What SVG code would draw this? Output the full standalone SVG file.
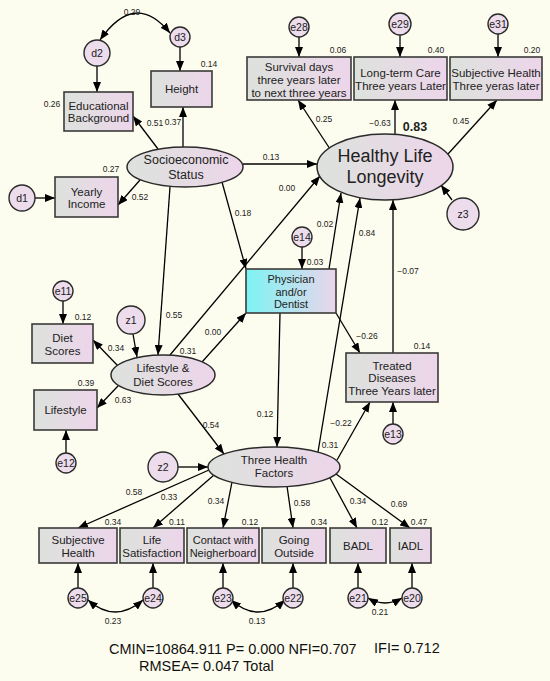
<svg xmlns="http://www.w3.org/2000/svg" width="550" height="681" viewBox="0 0 550 681">
<defs>
<linearGradient id="g" x1="0" y1="0" x2="1" y2="0"><stop offset="0" stop-color="#dde2dd"/><stop offset="1" stop-color="#edd5ea"/></linearGradient>
<linearGradient id="gc" x1="0" y1="0" x2="1" y2="0"><stop offset="0" stop-color="#7cf3f3"/><stop offset="1" stop-color="#ebd5eb"/></linearGradient>
<marker id="a" markerUnits="userSpaceOnUse" markerWidth="11" markerHeight="8" refX="10" refY="4" orient="auto-start-reverse"><path d="M0,0 L10,4 L0,8 z" fill="#000"/></marker>
<style>
.bx{fill:url(#g);stroke:#3a3a3a;stroke-width:1.6}
.el{fill:url(#g);stroke:#2a2a2a;stroke-width:1.5}
.ci{fill:#ecdcec;stroke:#2a2a2a;stroke-width:1.4}
.t{font-family:"Liberation Sans",Arial,sans-serif;font-size:11.5px;fill:#222;text-anchor:middle}
.c{font-family:"Liberation Sans",Arial,sans-serif;font-size:10.5px;fill:#222;text-anchor:middle}
.l{font-family:"Liberation Sans",Arial,sans-serif;font-size:8.5px;fill:#222;text-anchor:middle}
.cn line,.cn path{stroke:#000;stroke-width:1.3;fill:none;marker-end:url(#a)}
.cn path.cv{marker-start:url(#a)}
</style>
</defs>
<rect width="550" height="681" fill="#fdfdef"/>

<g class="cn" id="connectors">
<path class="cv" d="M100,40 Q135,-10 170,33"/>
<line x1="97" y1="66" x2="97" y2="92"/>
<line x1="180" y1="47" x2="180" y2="71"/>
<line x1="35" y1="198" x2="55" y2="198"/>
<line x1="158" y1="149" x2="133" y2="116"/>
<line x1="183" y1="147" x2="183" y2="107"/>
<line x1="140" y1="180" x2="118" y2="205"/>
<line x1="243" y1="164" x2="317" y2="164"/>
<line x1="170" y1="187" x2="158" y2="355"/>
<line x1="222" y1="182" x2="246" y2="269"/>
<line x1="170" y1="355" x2="320" y2="176"/>
<line x1="202" y1="362" x2="246" y2="313"/>
<line x1="118" y1="366" x2="93" y2="340"/>
<line x1="118" y1="386" x2="97" y2="408"/>
<line x1="178" y1="394" x2="224" y2="454"/>
<line x1="329" y1="269" x2="341" y2="193"/>
<line x1="318" y1="452" x2="360" y2="198"/>
<line x1="393" y1="353" x2="393" y2="200"/>
<line x1="336" y1="313" x2="360" y2="353"/>
<line x1="337" y1="460" x2="370" y2="402"/>
<line x1="280" y1="313" x2="277" y2="447"/>
<line x1="452" y1="200" x2="441" y2="185"/>
<line x1="178" y1="467" x2="208" y2="467"/>
<line x1="133" y1="334" x2="137" y2="357"/>
<line x1="63" y1="301" x2="63" y2="324"/>
<line x1="66" y1="453" x2="66" y2="430"/>
<line x1="393" y1="424" x2="393" y2="402"/>
<line x1="302" y1="247" x2="302" y2="269"/>
<line x1="299" y1="37" x2="299" y2="57"/>
<line x1="400" y1="35" x2="400" y2="57"/>
<line x1="498" y1="34" x2="498" y2="57"/>
<line x1="330" y1="149" x2="298" y2="100"/>
<line x1="395" y1="134" x2="395" y2="100"/>
<line x1="448" y1="154" x2="497" y2="100"/>
<line x1="209" y1="470" x2="78" y2="528"/>
<line x1="214" y1="475" x2="153" y2="528"/>
<line x1="232" y1="482" x2="223" y2="528"/>
<line x1="287" y1="486" x2="293" y2="528"/>
<line x1="330" y1="478" x2="357" y2="528"/>
<line x1="336" y1="474" x2="410" y2="528"/>
<line x1="78" y1="588" x2="78" y2="563"/>
<line x1="153" y1="588" x2="153" y2="563"/>
<line x1="223" y1="588" x2="223" y2="563"/>
<line x1="293" y1="588" x2="293" y2="563"/>
<line x1="358" y1="588" x2="358" y2="563"/>
<line x1="412" y1="588" x2="412" y2="563"/>
<path class="cv" d="M88,600 Q115,624 143,600"/>
<path class="cv" d="M231,600 Q258,624 285,600"/>
<path class="cv" d="M368,598 Q385,608 402,598"/>
</g>

<g id="d2"><circle class="ci" cx="97" cy="53" r="13"/><text class="c" x="97" y="57">d2</text></g>
<g id="d3"><circle class="ci" cx="180" cy="37" r="10"/><text class="c" x="180" y="41">d3</text></g>
<g id="d1"><circle class="ci" cx="22" cy="198" r="13"/><text class="c" x="22" y="202">d1</text></g>
<g id="educational"><rect class="bx" x="64" y="92" width="69" height="39"/><text class="t" x="98.5" y="110">Educational</text><text class="t" x="98.5" y="122">Background</text></g>
<g id="height"><rect class="bx" x="151" y="71" width="61" height="36"/><text class="t" x="181.5" y="93">Height</text></g>
<g id="income"><rect class="bx" x="55" y="177" width="63" height="40"/><text class="t" x="86.5" y="196">Yearly</text><text class="t" x="86.5" y="208">Income</text></g>
<g id="ses"><ellipse class="el" cx="185" cy="167" rx="58" ry="20"/><text class="t" style="font-size:12.5px" x="186" y="164">Socioeconomic</text><text class="t" style="font-size:12.5px" x="186" y="178.5">Status</text></g>

<g id="e28"><circle class="ci" cx="299" cy="27" r="10"/><text class="c" x="299" y="31">e28</text></g>
<g id="e29"><circle class="ci" cx="400" cy="24" r="11"/><text class="c" x="400" y="28">e29</text></g>
<g id="e31"><circle class="ci" cx="498" cy="24" r="10"/><text class="c" x="498" y="28">e31</text></g>
<g id="survival"><rect class="bx" x="247" y="57" width="104" height="43"/><text class="t" x="299" y="71">Survival days</text><text class="t" x="299" y="84">three years later</text><text class="t" x="299" y="97">to next three years</text></g>
<g id="ltc"><rect class="bx" x="354" y="57" width="93" height="43"/><text class="t" x="400.5" y="77">Long-term Care</text><text class="t" x="400.5" y="90">Three years Later</text></g>
<g id="subj3"><rect class="bx" x="450" y="57" width="92" height="43"/><text class="t" x="496" y="77">Subjective Health</text><text class="t" x="496" y="90">Three yeras later</text></g>
<g id="hll"><ellipse class="el" cx="385" cy="167" rx="68" ry="33"/><text class="t" style="font-size:18px" x="385" y="162">Healthy Life</text><text class="t" style="font-size:18px" x="385" y="183">Longevity</text></g>
<g id="z3"><circle class="ci" cx="463" cy="214" r="16"/><text class="c" x="463" y="218">z3</text></g>

<g id="e14"><circle class="ci" cx="302" cy="237" r="10"/><text class="c" x="302" y="241">e14</text></g>
<g id="physician"><rect x="246" y="269" width="90" height="44" fill="url(#gc)" stroke="#3a3a3a" stroke-width="1.6"/><text class="t" style="font-size:11px" x="291" y="283">Physician</text><text class="t" style="font-size:11px" x="291" y="296">and/or</text><text class="t" style="font-size:11px" x="291" y="308">Dentist</text></g>
<g id="treated"><rect class="bx" x="346" y="353" width="92" height="49"/><text class="t" x="392" y="370">Treated</text><text class="t" x="392" y="382">Diseases</text><text class="t" x="392" y="395">Three Years later</text></g>
<g id="e13"><circle class="ci" cx="393" cy="434" r="10"/><text class="c" x="393" y="438">e13</text></g>

<g id="e11"><circle class="ci" cx="63" cy="291" r="10"/><text class="c" x="63" y="295">e11</text></g>
<g id="diet"><rect class="bx" x="32" y="324" width="61" height="39"/><text class="t" x="62.5" y="342">Diet</text><text class="t" x="62.5" y="355">Scores</text></g>
<g id="z1"><circle class="ci" cx="131" cy="320" r="14"/><text class="c" x="131" y="324">z1</text></g>
<g id="lifestylebox"><rect class="bx" x="34" y="390" width="63" height="40"/><text class="t" x="65.5" y="414">Lifestyle</text></g>
<g id="e12"><circle class="ci" cx="66" cy="463" r="10"/><text class="c" x="66" y="467">e12</text></g>
<g id="lifestyle"><ellipse class="el" cx="163" cy="375" rx="52" ry="20"/><text class="t" x="163" y="372">Lifestyle &amp;</text><text class="t" x="163" y="385.5">Diet Scores</text></g>

<g id="z2"><circle class="ci" cx="163" cy="467" r="15"/><text class="c" x="163" y="471">z2</text></g>
<g id="thf"><ellipse class="el" cx="274" cy="467" rx="66" ry="20"/><text class="t" x="274" y="464">Three Health</text><text class="t" x="274" y="477">Factors</text></g>

<g id="subjh"><rect class="bx" x="39" y="528" width="78" height="35"/><text class="t" x="78" y="544">Subjective</text><text class="t" x="78" y="557">Health</text></g>
<g id="lifesat"><rect class="bx" x="120" y="528" width="64" height="35"/><text class="t" x="152" y="544">Life</text><text class="t" x="152" y="557">Satisfaction</text></g>
<g id="contact"><rect class="bx" x="187" y="528" width="72" height="35"/><text class="t" style="font-size:11px" x="223" y="544">Contact with</text><text class="t" style="font-size:11px" x="223" y="557">Neigherboard</text></g>
<g id="going"><rect class="bx" x="262" y="528" width="64" height="35"/><text class="t" x="294" y="544">Going</text><text class="t" x="294" y="557">Outside</text></g>
<g id="badl"><rect class="bx" x="330" y="528" width="56" height="35"/><text class="t" x="358" y="550">BADL</text></g>
<g id="iadl"><rect class="bx" x="390" y="528" width="41" height="35"/><text class="t" x="410.5" y="550">IADL</text></g>
<g id="e25"><circle class="ci" cx="78" cy="598" r="10"/><text class="c" x="78" y="602">e25</text></g>
<g id="e24"><circle class="ci" cx="153" cy="598" r="10"/><text class="c" x="153" y="602">e24</text></g>
<g id="e23"><circle class="ci" cx="223" cy="598" r="10"/><text class="c" x="223" y="602">e23</text></g>
<g id="e22"><circle class="ci" cx="293" cy="598" r="10"/><text class="c" x="293" y="602">e22</text></g>
<g id="e21"><circle class="ci" cx="358" cy="598" r="10"/><text class="c" x="358" y="602">e21</text></g>
<g id="e20"><circle class="ci" cx="412" cy="598" r="10"/><text class="c" x="412" y="602">e20</text></g>

<g id="labels">
<text class="l" x="132" y="15">0.29</text>
<text class="l" x="209" y="67">0.14</text>
<text class="l" x="52" y="107">0.26</text>
<text class="l" x="155" y="126">0.51</text>
<text class="l" x="173" y="125">0.37</text>
<text class="l" x="111" y="172">0.27</text>
<text class="l" x="140" y="200">0.52</text>
<text class="l" x="271" y="160">0.13</text>
<text class="l" x="287" y="191">0.00</text>
<text class="l" x="338" y="53">0.06</text>
<text class="l" x="436" y="53">0.40</text>
<text class="l" x="532" y="53">0.20</text>
<text class="l" x="324" y="122">0.25</text>
<text class="l" x="380" y="126">−0.63</text>
<text class="l" style="font-size:12.5px;font-weight:bold" x="415" y="131">0.83</text>
<text class="l" x="461" y="124">0.45</text>
<text class="l" x="243" y="216">0.18</text>
<text class="l" x="174" y="318">0.55</text>
<text class="l" x="83" y="320">0.12</text>
<text class="l" x="213" y="335">0.00</text>
<text class="l" x="188" y="354">0.31</text>
<text class="l" x="116" y="351">0.34</text>
<text class="l" x="86" y="386">0.39</text>
<text class="l" x="123" y="403">0.63</text>
<text class="l" x="211" y="428">0.54</text>
<text class="l" x="325" y="227">0.02</text>
<text class="l" x="367" y="236">0.84</text>
<text class="l" x="315" y="265">0.03</text>
<text class="l" x="408" y="274">−0.07</text>
<text class="l" x="367" y="339">−0.26</text>
<text class="l" x="422" y="349">0.14</text>
<text class="l" x="265" y="417">0.12</text>
<text class="l" x="341" y="426">−0.22</text>
<text class="l" x="330" y="448">0.31</text>
<text class="l" x="134" y="495">0.58</text>
<text class="l" x="169" y="500">0.33</text>
<text class="l" x="216" y="504">0.34</text>
<text class="l" x="302" y="506">0.58</text>
<text class="l" x="358" y="504">0.34</text>
<text class="l" x="399" y="507">0.69</text>
<text class="l" x="113" y="525">0.34</text>
<text class="l" x="177" y="525">0.11</text>
<text class="l" x="250" y="525">0.12</text>
<text class="l" x="319" y="525">0.34</text>
<text class="l" x="380" y="525">0.12</text>
<text class="l" x="419" y="525">0.47</text>
<text class="l" x="113" y="624">0.23</text>
<text class="l" x="257" y="624">0.13</text>
<text class="l" x="380" y="615">0.21</text>
</g>
<g id="fit" font-family="Liberation Sans, Arial, sans-serif" font-size="14.5" fill="#111">
<text x="109" y="654">CMIN=10864.911 P= 0.000 NFI=0.707</text>
<text x="374" y="653">IFI= 0.712</text>
<text x="139" y="671">RMSEA= 0.047 Total</text>
</g>
</svg>
